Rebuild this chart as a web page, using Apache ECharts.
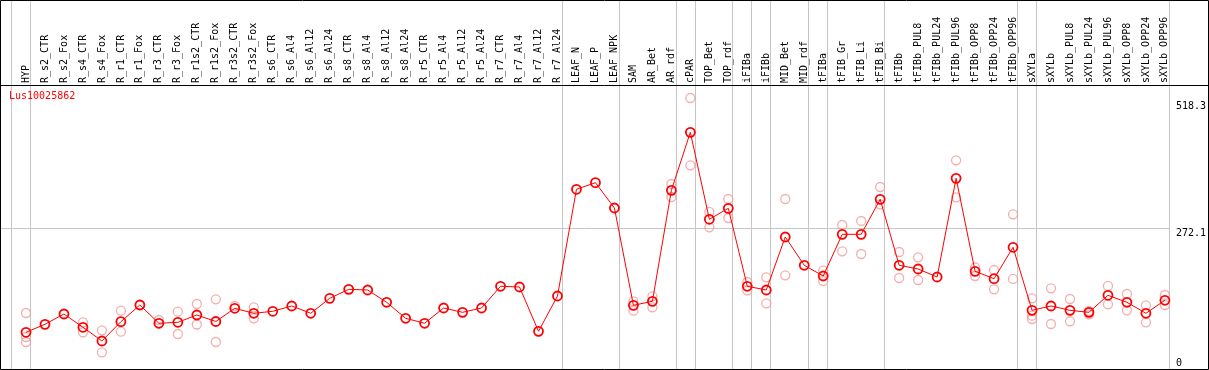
<!DOCTYPE html>
<html>
<head>
<meta charset="utf-8">
<script src="https://cdn.jsdelivr.net/npm/echarts@6/dist/echarts.min.js"></script>
<style>
html,body{margin:0;padding:0;background:#fff;}
#chart{width:1209px;height:370px;}
</style>
</head>
<body>
<div id="chart"></div>
<script>
const chartTitle = "Lus10025862";
const categories = ["HYP","R_s2_CTR","R_s2_Fox","R_s4_CTR","R_s4_Fox","R_r1_CTR","R_r1_Fox","R_r3_CTR","R_r3_Fox","R_r1s2_CTR","R_r1s2_Fox","R_r3s2_CTR","R_r3s2_Fox","R_s6_CTR","R_s6_Al4","R_s6_Al12","R_s6_Al24","R_s8_CTR","R_s8_Al4","R_s8_Al12","R_s8_Al24","R_r5_CTR","R_r5_Al4","R_r5_Al12","R_r5_Al24","R_r7_CTR","R_r7_Al4","R_r7_Al12","R_r7_Al24","LEAF_N","LEAF_P","LEAF_NPK","SAM","AR_Bet","AR_rdf","cPAR","TOP_Bet","TOP_rdf","iFIBa","iFIBb","MID_Bet","MID_rdf","tFIBa","tFIB_Gr","tFIB_Li","tFIB_Bi","tFIBb","tFIBb_PUL8","tFIBb_PUL24","tFIBb_PUL96","tFIBb_OPP8","tFIBb_OPP24","tFIBb_OPP96","sXYLa","sXYLb","sXYLb_PUL8","sXYLb_PUL24","sXYLb_PUL96","sXYLb_OPP8","sXYLb_OPP24","sXYLb_OPP96"];
const meanValues = [69.4,84.9,104.9,79.1,52.5,90.0,122.4,86.9,88.8,103.0,90.4,116.0,106.3,110.2,120.5,106.3,135.4,152.9,151.6,127.7,96.6,86.9,116.6,108.2,116.6,158.8,157.4,71.3,139.9,347.3,360.1,310.9,121.8,129.6,345.3,458.0,289.0,310.3,158.8,151.6,254.6,199.6,178.8,259.8,259.8,327.8,199.6,192.4,176.8,368.6,187.9,173.5,234.6,112.1,120.5,112.1,108.2,141.3,127.7,106.3,131.6];
const rep1 = [106.9,null,104.9,88.8,73.3,111.4,122.4,93.3,109.4,124.4,133.5,120.5,118.0,
  null,null,null,null,null,null,null,null,null,null,null,null,null,null,null,null,null,null,null,
  129.6,139.3,357.6,524.7,303.2,328.4,167.1,176.3,328.4,null,189.1,277.9,285.7,351.7,225.4,215.1,null,403.6,195.7,190.4,298.7,135.4,154.9,134.1,110.8,159.4,143.8,121.8,141.9];
const rep2 = [60.2,null,null,69.4,30.5,70.5,null,86.9,66.1,84.5,50.5,null,96.6,
  null,null,null,null,null,null,null,null,null,null,null,null,null,null,null,null,null,null,null,
  111.4,118.0,332.3,393.9,273.4,291.5,151.0,125.7,180.1,null,169.1,226.8,221.5,318.1,174.9,171.0,null,331.7,178.8,152.9,173.0,101.6,85.5,90.8,104.4,123.8,112.1,88.8,122.4];
const rep3 = [50.5,null,null,null,null,null,null,null,null,null,null,null,null,
  null,null,null,null,null,null,null,null,null,null,null,null,null,null,null,null,null,null,null,
  null,null,null,null,null,null,null,null,null,null,null,null,null,null,null,null,null,null,null,null,null,95.2,null,null,null,null,null,null,null];
const groupEnds = [-1,0,28,31,34,35,37,38,39,41,42,45,52,53,60];
const yTopLabels = [272.1, 518.3];
const yBottomLabels = [0];
const refLineValue = 272.1;
const yMax = 548;

const FONT = '"DejaVu Sans Mono", "Liberation Mono", monospace';
const toSeries = arr => arr.map(v => v == null ? '-' : v);

const chart = echarts.init(document.getElementById('chart'), null, {renderer: 'canvas'});
const repStyle = {color: 'rgba(0,0,0,0)', borderColor: '#f09a9a', borderWidth: 1.3};
const option = {
  animation: false,
  backgroundColor: '#fff',
  title: {
    text: chartTitle, left: 9, top: 91, padding: 0,
    textStyle: {color: '#ff0000', fontSize: 10, fontWeight: 'normal', fontFamily: FONT}
  },
  grid: {left: 26, right: 42, top: 86, bottom: 2, containLabel: false},
  xAxis: [{
    type: 'category', data: categories, position: 'top', boundaryGap: false,
    axisLine: {show: false}, axisTick: {show: false}, splitLine: {show: false},
    axisLabel: {interval: 0, rotate: 90, margin: 3, color: '#000', fontSize: 10, fontFamily: FONT, padding: [0, 0, 0, 0]}
  }, {
    type: 'value', min: 0, max: categories.length - 1, show: false
  }],
  yAxis: [{
    type: 'value', min: 0, max: yMax, position: 'right',
    axisLine: {show: false}, axisTick: {show: false}, splitLine: {show: false},
    axisLabel: {customValues: yTopLabels, margin: 11, verticalAlign: 'top', color: '#000', fontSize: 10, fontFamily: FONT}
  }, {
    type: 'value', min: 0, max: yMax, position: 'right',
    axisLine: {show: false}, axisTick: {show: false}, splitLine: {show: false},
    axisLabel: {customValues: yBottomLabels, margin: 11, verticalAlign: 'bottom', color: '#000', fontSize: 10, fontFamily: FONT}
  }],
  graphic: [
    {type: 'rect', z: 100, silent: true, shape: {x: 0.5, y: 0.5, width: 1208, height: 369}, style: {fill: null, stroke: '#000', lineWidth: 1}},
    {type: 'line', z: 100, silent: true, shape: {x1: 0, y1: 85.5, x2: 1209, y2: 85.5}, style: {stroke: '#000', lineWidth: 1}}
  ],
  series: [
    {
      type: 'custom', xAxisIndex: 1, yAxisIndex: 0, clip: false, silent: true, z: 1,
      data: groupEnds.map(k => [k + 0.22, 0]),
      renderItem: function (params, api) {
        const x = Math.round(api.coord([api.value(0), 0])[0]) + 0.5;
        return {type: 'line', shape: {x1: x, y1: 0, x2: x, y2: api.getHeight()}, style: {stroke: '#c6c6c6', lineWidth: 1}};
      }
    },
    {
      type: 'custom', xAxisIndex: 1, yAxisIndex: 0, clip: false, silent: true, z: 1,
      data: [[groupEnds[groupEnds.length - 1] + 0.22, refLineValue]],
      renderItem: function (params, api) {
        const p = api.coord([api.value(0), api.value(1)]);
        const y = Math.round(p[1]) + 0.5;
        return {type: 'line', shape: {x1: 0, y1: y, x2: Math.round(p[0]), y2: y}, style: {stroke: '#c6c6c6', lineWidth: 1}};
      }
    },
    {type: 'scatter', z: 2, silent: true, symbol: 'circle', symbolSize: 9, data: toSeries(rep1), itemStyle: repStyle},
    {type: 'scatter', z: 2, silent: true, symbol: 'circle', symbolSize: 9, data: toSeries(rep2), itemStyle: repStyle},
    {type: 'scatter', z: 2, silent: true, symbol: 'circle', symbolSize: 9, data: toSeries(rep3), itemStyle: repStyle},
    {
      type: 'line', z: 3, silent: true, data: meanValues, symbol: 'circle', symbolSize: 9, showSymbol: true,
      lineStyle: {color: '#ff0000', width: 1},
      itemStyle: {color: 'rgba(0,0,0,0)', borderColor: '#ff0000', borderWidth: 1.8},
      emphasis: {disabled: true}
    }
  ]
};
chart.setOption(option);
</script>
</body>
</html>
